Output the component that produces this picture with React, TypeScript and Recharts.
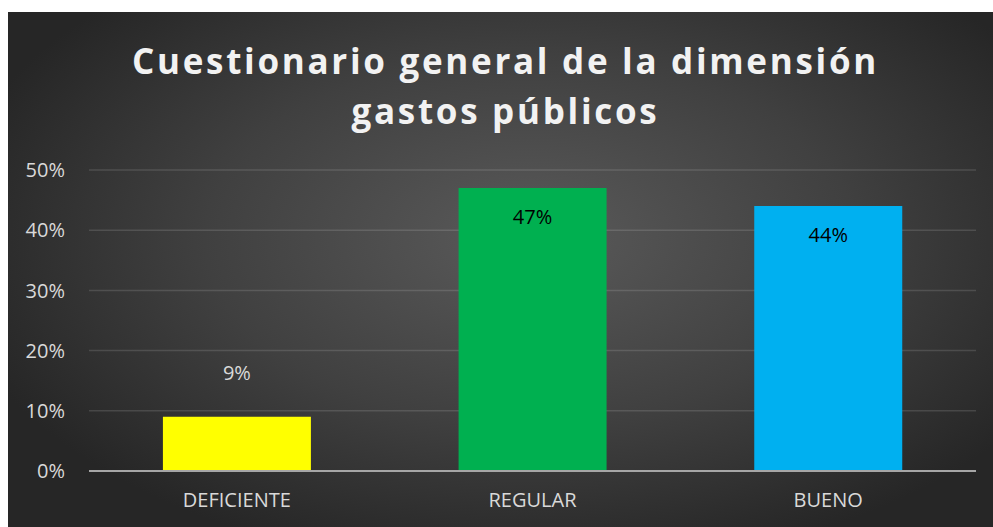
import { BarChart, Bar, XAxis, YAxis, CartesianGrid, Cell, LabelList } from "recharts";

const categorias = ["DEFICIENTE", "REGULAR", "BUENO"];
const porcentajes = [9, 47, 44];
const colores = ["#ffff00", "#00b050", "#00b0f0"];
const ticksY = [0, 10, 20, 30, 40, 50];

const data = categorias.map((c, i) => ({ nivel: c, valor: porcentajes[i] }));

// etiqueta: dentro de la barra si es alta, encima si es baja
function Etiqueta(props: any) {
  const { x, y, width, value } = props;
  const cx = x + width / 2;
  const dentro = value > 20;
  return (
    <text
      x={cx}
      y={dentro ? y + 28 : y - 44}
      textAnchor="middle"
      dominantBaseline="central"
      fill={dentro ? "#000000" : "#d9d9d9"}
      fontSize={20}
      fontFamily="'Open Sans', sans-serif"
    >
      {value}%
    </text>
  );
}

export default function App() {
  return (
    <div
      style={{
        position: "absolute",
        left: 8,
        top: 12,
        width: 985,
        height: 515,
        overflow: "hidden",
        background: "radial-gradient(ellipse 60% 65% at 53% 44%, #5a5a5a 0%, #404040 55%, #262626 100%)",
        fontFamily: "'Open Sans', sans-serif",
      }}
    >
      <style>{"body{overflow:hidden}"}</style>
      <div
        style={{
          position: "absolute",
          left: 5,
          top: 24,
          width: 985,
          textAlign: "center",
          color: "#f2f2f2",
          fontWeight: 700,
          fontSize: 35,
          letterSpacing: 2.7,
          lineHeight: "50px",
        }}
      >
        Cuestionario general de la dimensión
        <br />
        gastos públicos
      </div>
      <BarChart
        width={985}
        height={515}
        data={data}
        margin={{ top: 158, right: 17, bottom: 16, left: 21 }}
        barCategoryGap="25%"
      >
        <CartesianGrid vertical={false} stroke="rgba(255,255,255,0.13)" strokeWidth={1.5} />
        <XAxis
          dataKey="nivel"
          height={40}
          tickLine={false}
          axisLine={{ stroke: "#a6a6a6", strokeWidth: 2 }}
          tick={{ fill: "#d9d9d9", fontSize: 20 }}
          tickMargin={16}
        />
        <YAxis
          width={60}
          domain={[0, 50]}
          ticks={ticksY}
          tickFormatter={(v) => `${v}%`}
          tickLine={false}
          axisLine={false}
          tick={{ fill: "#d9d9d9", fontSize: 20 }}
          tickMargin={18}
        />
        <Bar dataKey="valor" isAnimationActive={false}>
          {data.map((d, i) => (
            <Cell key={d.nivel} fill={colores[i]} />
          ))}
          <LabelList dataKey="valor" content={Etiqueta} />
        </Bar>
      </BarChart>
    </div>
  );
}
